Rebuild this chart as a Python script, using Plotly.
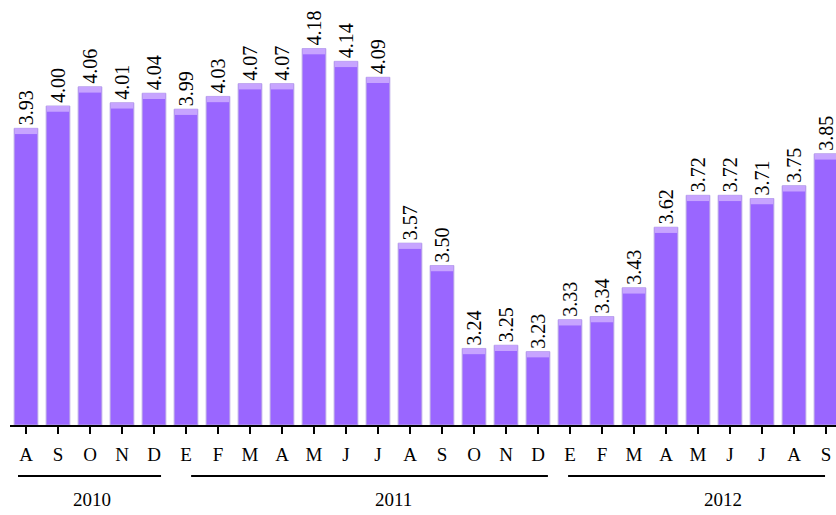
import plotly.graph_objects as go

months = ["A", "S", "O", "N", "D",
          "E", "F", "M", "A", "M", "J", "J", "A", "S", "O", "N", "D",
          "E", "F", "M", "A", "M", "J", "J", "A", "S"]
values = [3.93, 4.00, 4.06, 4.01, 4.04,
          3.99, 4.03, 4.07, 4.07, 4.18, 4.14, 4.09, 3.57, 3.50, 3.24, 3.25, 3.23,
          3.33, 3.34, 3.43, 3.62, 3.72, 3.72, 3.71, 3.75, 3.85]
years = ["2010", "2011", "2012"]
year_spans = [(-0.25, 4.22), (5.16, 16.31), (16.94, 24.97)]
year_centers = [2.06, 11.47, 21.78]

FONT = "Liberation Serif, 'Times New Roman', serif"
x = list(range(len(values)))
labels = [f"{v:.2f}" for v in values]
y_min = 3.0
cap = 0.018

fig = go.Figure()
fig.add_trace(go.Bar(
    x=x, y=[v - y_min for v in values], base=y_min,
    width=0.74,
    marker=dict(color="#9A66FF", line=dict(color="#B9A6E6", width=1)),
    text=labels, textposition="outside", textangle=-90, constraintext="none",
    textfont=dict(family=FONT, size=20, color="black"),
    cliponaxis=False, showlegend=False, hoverinfo="skip",
))
fig.add_trace(go.Bar(
    x=x, y=[cap] * len(values), base=[v - cap for v in values],
    width=0.70,
    marker=dict(color="#C7A4FF", line=dict(width=0)),
    showlegend=False, hoverinfo="skip",
))

shapes = []
annotations = []
for name, (x0, x1), xc in zip(years, year_spans, year_centers):
    shapes.append(dict(type="line", xref="x", yref="paper", x0=x0, x1=x1,
                       y0=-0.12, y1=-0.12, line=dict(color="black", width=2)))
    annotations.append(dict(text=name, xref="x", yref="paper", x=xc, y=-0.176,
                            showarrow=False, yanchor="middle", xanchor="center",
                            font=dict(family=FONT, size=19, color="black")))

fig.update_layout(
    width=836, height=515,
    margin=dict(l=10, r=0, t=0, b=90),
    barmode="overlay",
    plot_bgcolor="white", paper_bgcolor="white",
    shapes=shapes, annotations=annotations,
    xaxis=dict(
        tickmode="array", tickvals=x, ticktext=months,
        range=[-0.5, -0.5 + 826 / 32],
        showline=True, linecolor="black", linewidth=1.5,
        ticks="outside", tickson="boundaries", ticklen=7, tickcolor="black", tickwidth=1.5,
        ticklabelstandoff=4,
        tickfont=dict(family=FONT, size=19, color="black"),
        showgrid=False, zeroline=False, fixedrange=True,
    ),
    yaxis=dict(
        range=[y_min, y_min + 425 / 319],
        visible=False, showgrid=False, zeroline=False, fixedrange=True,
    ),
)

fig.write_html("out.html")
